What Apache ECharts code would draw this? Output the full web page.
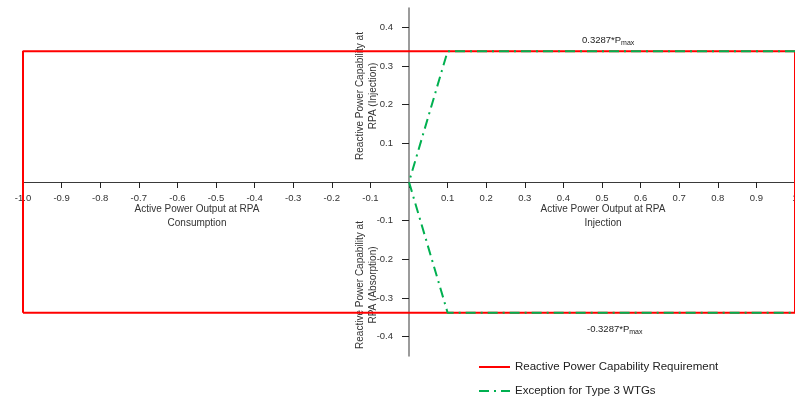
<!DOCTYPE html>
<html>
<head>
<meta charset="utf-8">
<script src="https://cdn.jsdelivr.net/npm/echarts@6/dist/echarts.min.js"></script>
<style>
  html, body { margin: 0; padding: 0; background: #fff; }
  #chart { width: 795px; height: 398px; }
</style>
</head>
<body>
<div id="chart"></div>
<script>
// reactive power limit as plotted (labelled 0.3287*Pmax)
const qLevel = 0.338;
const qLabels = ["0.3287*P", "-0.3287*P"];
// requirement box
const reqP = [-1, -1, 1, 1, -1];
const reqQ = [-qLevel, qLevel, qLevel, -qLevel, -qLevel];
// type 3 WTG exception
const excP = [1, 0.1, 0, 0.1, 1];
const excQ = [qLevel, qLevel, 0, -qLevel, -qLevel];
// y tick values (zero is not labelled)
const qTicks = [-0.4, -0.3, -0.2, -0.1, 0.1, 0.2, 0.3, 0.4];

const seriesNames = ["Reactive Power Capability Requirement", "Exception for Type 3 WTGs"];
const font = "Liberation Sans";

function pairs(xs, ys) {
  return xs.map((x, i) => [x, ys[i]]);
}

function chartSetup(container) {
  let myChart = echarts.init(container),
    option;
  // grid: x -1..1 over 772px, y -0.45..0.45 over 348px -> zero at (409, 182)
  option = {
    animation: false,
    textStyle: { fontFamily: font },
    grid: { left: 23, width: 772, top: 8, height: 348, outerBoundsMode: "none", containLabel: false },
    legend: {
      orient: "vertical",
      left: 473,
      top: 356,
      height: 60,
      itemWidth: 31,
      itemHeight: 10,
      itemGap: 12,
      itemStyle: { opacity: 0 },
      textStyle: { fontFamily: font, fontSize: 11.5, color: "#222" },
      data: seriesNames
    },
    xAxis: {
      type: "value",
      min: -1,
      max: 1,
      interval: 0.1,
      offset: -174,
      axisLine: { onZero: false, lineStyle: { color: "#3a3a3a", width: 1 } },
      axisTick: { length: 6, lineStyle: { color: "#222" } },
      axisLabel: {
        margin: 11,
        fontSize: 9.5,
        color: "#333",
        showMinLabel: true,
        showMaxLabel: true,
        formatter: function (v) {
          if (Math.abs(v) < 1e-9) return "";
          if (v === 1) return "1";
          return v.toFixed(1);
        }
      },
      splitLine: { show: false }
    },
    yAxis: {
      type: "value",
      min: -0.45,
      max: 0.45,
      offset: -386,
      axisLine: { onZero: false, lineStyle: { color: "#7a7a7a", width: 1.5 } },
      axisTick: { length: 7, customValues: qTicks, lineStyle: { color: "#222" } },
      axisLabel: {
        margin: 16,
        fontSize: 9.5,
        color: "#333",
        customValues: qTicks,
        formatter: (v) => v.toFixed(1)
      },
      splitLine: { show: false }
    },
    graphic: [
      {
        type: "text",
        x: 197,
        y: 216,
        style: {
          text: "Active Power Output at RPA\nConsumption",
          font: "10px " + font,
          fill: "#333",
          align: "center",
          verticalAlign: "middle",
          lineHeight: 14
        }
      },
      {
        type: "text",
        x: 603,
        y: 216,
        style: {
          text: "Active Power Output at RPA\nInjection",
          font: "10px " + font,
          fill: "#333",
          align: "center",
          verticalAlign: "middle",
          lineHeight: 14
        }
      },
      {
        type: "text",
        x: 367,
        y: 96,
        rotation: Math.PI / 2,
        style: {
          text: "Reactive Power Capability at\nRPA (Injection)",
          font: "10px " + font,
          fill: "#333",
          align: "center",
          verticalAlign: "middle",
          lineHeight: 13
        }
      },
      {
        type: "text",
        x: 367,
        y: 285,
        rotation: Math.PI / 2,
        style: {
          text: "Reactive Power Capability at\nRPA (Absorption)",
          font: "10px " + font,
          fill: "#333",
          align: "center",
          verticalAlign: "middle",
          lineHeight: 13
        }
      },
      {
        type: "text",
        x: 582,
        y: 40,
        style: {
          text: "{a|" + qLabels[0] + "}{b|max}",
          verticalAlign: "middle",
          rich: {
            a: { font: "9.5px " + font, fill: "#222" },
            b: { font: "7px " + font, fill: "#222", padding: [6, 0, 0, 0] }
          }
        }
      },
      {
        type: "text",
        x: 587,
        y: 329,
        style: {
          text: "{a|" + qLabels[1] + "}{b|max}",
          verticalAlign: "middle",
          rich: {
            a: { font: "9.5px " + font, fill: "#222" },
            b: { font: "7px " + font, fill: "#222", padding: [6, 0, 0, 0] }
          }
        }
      }
    ],
    series: [
      {
        name: seriesNames[0],
        type: "line",
        symbol: "none",
        lineStyle: { color: "#ff0000", width: 2 },
        itemStyle: { color: "#ff0000" },
        data: pairs(reqP, reqQ)
      },
      {
        name: seriesNames[1],
        type: "line",
        symbol: "none",
        lineStyle: { color: "#00b050", width: 2, type: [10, 5, 2, 5] },
        itemStyle: { color: "#00b050" },
        data: pairs(excP, excQ)
      }
    ]
  };

  if (option && typeof option === "object") myChart.setOption(option);
  window.addEventListener("resize", function () {
    myChart.resize();
  });
}

chartSetup(document.getElementById("chart"));
</script>
</body>
</html>
